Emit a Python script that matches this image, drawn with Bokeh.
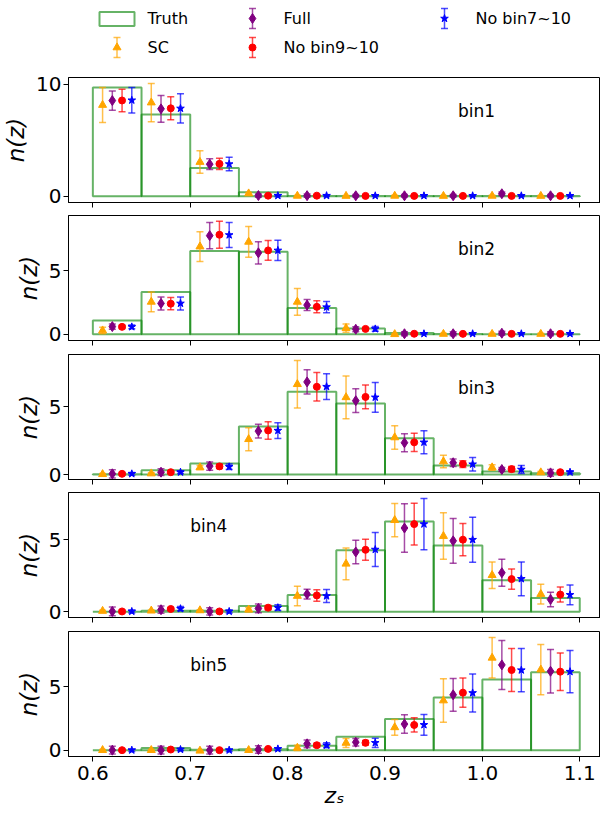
import numpy as np
from bokeh.plotting import figure
from bokeh.layouts import column
from bokeh.models import Range1d, FixedTicker, Label, ColumnDataSource
from bokeh.embed import file_html
from bokeh.resources import INLINE
from bokeh.core.properties import value

FONT = "DejaVu Sans"

# ---------------- data ----------------
bin_edges = [0.60, 0.65, 0.70, 0.75, 0.80, 0.85, 0.90, 0.95, 1.00, 1.05, 1.10]
panel_names = ["bin1", "bin2", "bin3", "bin4", "bin5"]
x_ticks = [0.6, 0.7, 0.8, 0.9, 1.0, 1.1]
x_tick_labels = ["0.6", "0.7", "0.8", "0.9", "1.0", "1.1"]
y_ticks = [[0, 10], [0, 5], [0, 5], [0, 5], [0, 5]]
series_names = ["SC", "Full", "No bin9~10", "No bin7~10"]

truth = [
    [9.70, 7.29, 2.53, 0.36, 0.02, 0.01, 0.01, 0.01, 0.01, 0.01],
    [1.07, 3.32, 6.54, 6.47, 2.07, 0.45, 0.10, 0.02, 0.01, 0.01],
    [0.02, 0.32, 0.82, 3.56, 6.12, 5.25, 2.69, 0.67, 0.22, 0.10],
    [0.00, 0.07, 0.07, 0.39, 1.16, 4.26, 6.25, 4.58, 2.18, 0.95],
    [0.00, 0.18, 0.03, 0.08, 0.34, 1.05, 2.47, 4.16, 5.58, 6.16],
]

sc_mean = [
    [8.14, 8.36, 3.05, 0.24, 0.03, 0.02, 0.03, 0.02, 0.03, 0.02],
    [0.29, 2.54, 6.88, 7.25, 2.54, 0.48, 0.00, 0.02, 0.02, 0.02],
    [0.02, 0.07, 0.52, 2.61, 6.68, 5.71, 2.74, 0.96, 0.52, 0.15],
    [0.05, 0.07, 0.09, 0.14, 1.09, 3.32, 6.34, 5.24, 2.53, 1.22],
    [0.00, 0.00, -0.05, 0.00, 0.18, 0.57, 1.80, 3.92, 7.29, 6.36],
]
sc_err = [
    [1.56, 1.70, 1.00, 0.10, 0.05, 0.05, 0.05, 0.05, 0.05, 0.05],
    [0.26, 0.78, 1.17, 1.20, 1.05, 0.33, 0.05, 0.05, 0.05, 0.05],
    [0.05, 0.06, 0.15, 0.85, 1.75, 1.58, 0.87, 0.46, 0.20, 0.08],
    [0.05, 0.05, 0.05, 0.15, 0.67, 1.10, 1.15, 1.61, 0.92, 0.68],
    [0.05, 0.05, 0.05, 0.05, 0.20, 0.35, 0.62, 1.71, 1.60, 1.98],
]

full_mean = [
    [8.54, 7.80, 2.86, 0.06, 0.05, 0.04, 0.04, 0.04, 0.22, 0.04],
    [0.60, 2.42, 7.74, 6.39, 2.29, 0.39, 0.04, 0.04, 0.08, 0.04],
    [0.05, 0.17, 0.62, 3.21, 6.85, 5.46, 2.35, 0.87, 0.37, 0.12],
    [0.02, 0.14, 0.02, 0.23, 1.22, 4.14, 5.80, 4.91, 2.70, 0.85],
    [0.00, 0.00, 0.00, 0.05, 0.50, 0.63, 2.06, 4.37, 6.73, 6.23],
]
full_err = [
    [0.86, 1.19, 0.48, 0.15, 0.15, 0.12, 0.12, 0.12, 0.15, 0.12],
    [0.20, 0.51, 1.03, 0.87, 0.43, 0.20, 0.15, 0.15, 0.15, 0.15],
    [0.30, 0.25, 0.30, 0.50, 0.90, 0.88, 0.66, 0.27, 0.15, 0.25],
    [0.30, 0.25, 0.25, 0.30, 0.34, 0.81, 1.68, 1.55, 0.94, 0.50],
    [0.30, 0.30, 0.30, 0.30, 0.30, 0.30, 0.73, 1.29, 1.93, 1.72],
]

nb910_mean = [
    [8.55, 7.85, 2.89, 0.05, 0.05, 0.03, 0.03, 0.03, 0.03, 0.03],
    [0.58, 2.40, 7.81, 6.58, 2.15, 0.42, 0.04, 0.03, 0.03, 0.03],
    [0.05, 0.17, 0.60, 3.26, 6.49, 5.74, 2.38, 0.77, 0.40, 0.17],
    [0.02, 0.19, 0.02, 0.28, 1.13, 4.29, 6.07, 4.99, 2.26, 1.19],
    [0.00, 0.05, 0.00, 0.10, 0.39, 0.58, 1.99, 4.54, 6.33, 6.20],
]
nb910_err = [
    [1.00, 1.03, 0.50, 0.08, 0.08, 0.05, 0.05, 0.05, 0.05, 0.05],
    [0.13, 0.48, 1.06, 0.78, 0.47, 0.10, 0.05, 0.05, 0.05, 0.05],
    [0.10, 0.10, 0.15, 0.65, 1.05, 0.88, 0.68, 0.25, 0.20, 0.10],
    [0.10, 0.10, 0.10, 0.15, 0.40, 0.73, 1.45, 1.12, 0.70, 0.52],
    [0.10, 0.10, 0.10, 0.10, 0.15, 0.18, 0.56, 1.15, 1.70, 1.48],
]

nb710_mean = [
    [8.57, 7.84, 2.87, 0.05, 0.05, 0.04, 0.04, 0.04, 0.04, 0.04],
    [0.58, 2.42, 7.79, 6.58, 2.13, 0.42, 0.04, 0.04, 0.04, 0.04],
    [0.05, 0.17, 0.57, 3.25, 6.50, 5.71, 2.38, 0.76, 0.37, 0.17],
    [0.02, 0.21, 0.02, 0.28, 1.09, 4.31, 6.07, 4.99, 2.28, 1.17],
    [0.00, 0.05, 0.00, 0.10, 0.39, 0.58, 2.00, 4.52, 6.32, 6.20],
]
nb710_err = [
    [1.13, 1.30, 0.60, 0.08, 0.08, 0.06, 0.06, 0.06, 0.06, 0.06],
    [0.15, 0.51, 0.98, 0.80, 0.45, 0.18, 0.06, 0.06, 0.06, 0.06],
    [0.10, 0.10, 0.20, 0.58, 0.95, 1.10, 0.85, 0.50, 0.30, 0.10],
    [0.10, 0.15, 0.10, 0.20, 0.45, 1.18, 1.78, 1.56, 1.17, 0.68],
    [0.10, 0.10, 0.10, 0.10, 0.20, 0.37, 0.82, 1.50, 1.71, 1.67],
]

series_means = [sc_mean, full_mean, nb910_mean, nb710_mean]
series_errs = [sc_err, full_err, nb910_err, nb710_err]

# ---------------- styles / layout ----------------
series_style = [
    dict(color="orange", marker="triangle", size=8, dx=-0.015),
    dict(color="purple", marker="diamond", size=10, dx=-0.005),
    dict(color="red", marker="circle", size=7, dx=0.005),
    dict(color="blue", marker="star", size=8, dx=0.015),
]
y_ranges = [(-0.56, 10.6), (-0.49, 9.32), (-0.37, 8.88), (-0.40, 8.26), (-0.50, 9.37)]
FRAME_H = 125
LEG_H = 66
tops = [11, 0, 0, 0, 0]
heights = [149, 139, 138, 139, 183]
label_x = [0.975, 0.975, 0.975, 0.70, 0.70]
X_RANGE = (0.575, 1.1213)
LEFT = 68

edges = np.array(bin_edges)
centers = (edges[:-1] + edges[1:]) / 2


def style_axes(p):
    p.xgrid.visible = False
    p.ygrid.visible = False
    p.outline_line_color = "black"
    p.outline_line_width = 1
    p.outline_line_alpha = 1
    p.background_fill_color = "white"
    p.border_fill_color = "white"
    for ax in (p.xaxis[0], p.yaxis[0]):
        ax.axis_line_color = "black"
        ax.major_tick_line_color = "black"
        ax.major_tick_out = 5
        ax.major_tick_in = 0
        ax.minor_tick_out = 0
        ax.minor_tick_in = 0
        ax.major_label_text_font = FONT
        ax.major_label_text_font_size = "20px"
        ax.major_label_text_color = "black"
        ax.axis_label_text_font = FONT
        ax.axis_label_text_color = "black"


panels = []

# legend area (frame aligned with the panels below; x data = page pixels)
lg = figure(width=600, height=LEG_H, x_range=Range1d(LEFT, 600), y_range=Range1d(LEG_H, 0),
            output_backend="svg", toolbar_location=None,
            min_border_left=LEFT, min_border_right=0, min_border_top=0, min_border_bottom=0)
lg.axis.visible = False
lg.xgrid.visible = False
lg.ygrid.visible = False
lg.outline_line_color = None
lg.quad(left=[99], right=[134], top=[11.5], bottom=[25.5], fill_color=None,
        line_color="green", line_alpha=0.6, line_width=2)
leg_pos = [(116.5, 47), (252, 18), (252, 47), (444, 18)]
leg_text_x = [147, 283, 283, 475]
for k, st in enumerate(series_style):
    lx, ly = leg_pos[k]
    lg.segment(x0=[lx], y0=[ly - 10], x1=[lx], y1=[ly + 10], line_color=st["color"],
               line_alpha=0.7, line_width=1.5)
    lg.scatter(x=[lx, lx], y=[ly - 10, ly + 10], marker="dash", size=7,
               line_color=st["color"], line_alpha=0.7, line_width=1.5)
    lg.scatter(x=[lx], y=[ly], marker=st["marker"], size=st["size"],
               fill_color=st["color"], line_color=st["color"])
lg.text(x=[147] + leg_text_x, y=[18] + [p[1] for p in leg_pos],
        text=["Truth"] + series_names, text_font=value(FONT), text_font_size="16px",
        text_baseline="middle", text_align="left", text_color="black")
panels.append(lg)

for i in range(5):
    last = i == 4
    p = figure(width=600, height=heights[i], x_range=Range1d(*X_RANGE),
               y_range=Range1d(*y_ranges[i]), output_backend="svg", toolbar_location=None,
               min_border_left=LEFT, min_border_right=0, min_border_top=tops[i],
               min_border_bottom=heights[i] - FRAME_H - tops[i])
    style_axes(p)
    p.xaxis.ticker = FixedTicker(ticks=x_ticks, minor_ticks=[])
    p.yaxis.ticker = FixedTicker(ticks=y_ticks[i], minor_ticks=[])
    p.yaxis.major_label_standoff = 2
    p.yaxis.axis_label = "n(z)"
    p.yaxis.axis_label_text_font_size = "23px"
    p.yaxis.axis_label_text_font_style = "italic"
    p.yaxis.axis_label_standoff = 4
    if last:
        p.xaxis.major_label_overrides = {t: l for t, l in zip(x_ticks, x_tick_labels)}
        p.xaxis.major_label_standoff = 4
        p.xaxis.axis_label = "z\u209b"
        p.xaxis.axis_label_text_font_size = "22px"
        p.xaxis.axis_label_text_font_style = "italic"
        p.xaxis.axis_label_standoff = 0
    else:
        p.xaxis.major_label_text_font_size = "0px"
        p.xaxis.major_label_overrides = {t: "" for t in x_ticks}

    # truth histogram (outlined bars)
    p.quad(left=edges[:-1], right=edges[1:], bottom=0, top=truth[i], fill_color=None,
           line_color="green", line_alpha=0.6, line_width=2)

    for k, st in enumerate(series_style):
        m = np.array(series_means[k][i])
        e = np.array(series_errs[k][i])
        src = ColumnDataSource(dict(x=centers + st["dx"], y=m, lo=m - e, hi=m + e))
        p.segment(x0="x", y0="lo", x1="x", y1="hi", source=src, line_color=st["color"],
                  line_alpha=0.7, line_width=1.5)
        p.scatter(x="x", y="lo", source=src, marker="dash", size=7, line_color=st["color"],
                  line_alpha=0.7, line_width=1.5)
        p.scatter(x="x", y="hi", source=src, marker="dash", size=7, line_color=st["color"],
                  line_alpha=0.7, line_width=1.5)
        p.scatter(x="x", y="y", source=src, marker=st["marker"], size=st["size"],
                  fill_color=st["color"], line_color=st["color"])

    y0, y1 = y_ranges[i]
    p.add_layout(Label(x=label_x[i], y=y1 - 33.0 / FRAME_H * (y1 - y0), text=panel_names[i],
                       text_font=FONT, text_font_size="17px", text_baseline="middle",
                       text_align="left", text_color="black"))
    panels.append(p)

layout = column(*panels, spacing=0)
open("out.html", "w").write(file_html(layout, INLINE))
